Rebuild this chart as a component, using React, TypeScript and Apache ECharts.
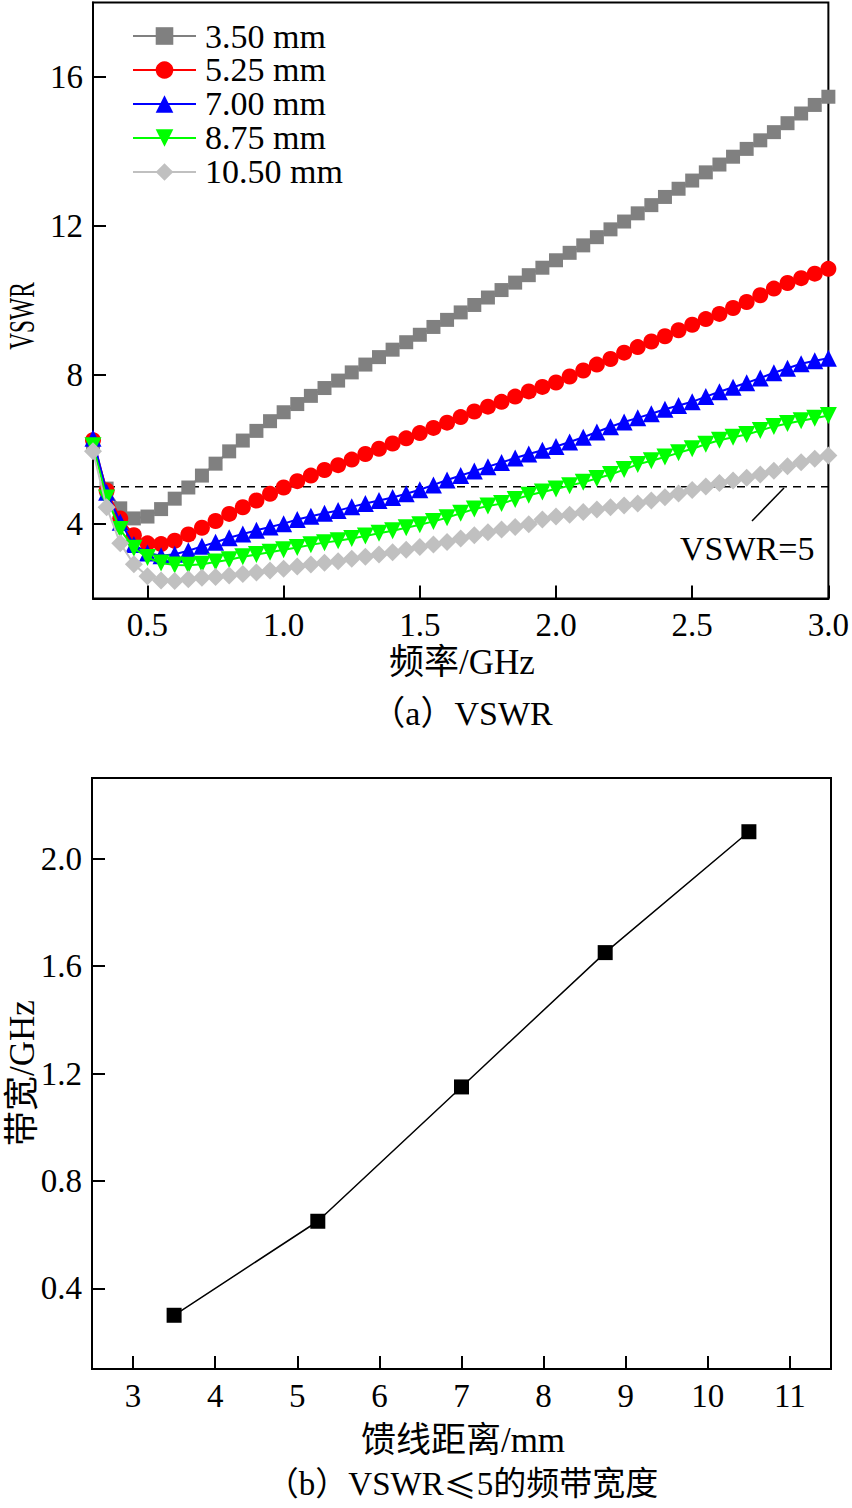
import React, { useEffect, useRef } from "react";
import * as echarts from "echarts";

// ---------- data ----------
const freqGHz = [
  0.3, 0.35, 0.4, 0.45, 0.5, 0.55, 0.6, 0.65, 0.7, 0.75, 0.8, 0.85, 0.9, 0.95, 1.0,
  1.05, 1.1, 1.15, 1.2, 1.25, 1.3, 1.35, 1.4, 1.45, 1.5, 1.55, 1.6, 1.65, 1.7, 1.75,
  1.8, 1.85, 1.9, 1.95, 2.0, 2.05, 2.1, 2.15, 2.2, 2.25, 2.3, 2.35, 2.4, 2.45, 2.5,
  2.55, 2.6, 2.65, 2.7, 2.75, 2.8, 2.85, 2.9, 2.95, 3.0,
];
const vswr350 = [
  6.1, 4.95, 4.42, 4.15, 4.2, 4.4, 4.68, 4.98, 5.3, 5.62, 5.95, 6.24, 6.5, 6.76, 7.0,
  7.22, 7.44, 7.65, 7.85, 8.07, 8.28, 8.48, 8.68, 8.88, 9.08, 9.29, 9.48, 9.68, 9.88, 10.08,
  10.28, 10.48, 10.68, 10.88, 11.08, 11.28, 11.48, 11.7, 11.91, 12.12, 12.34, 12.56, 12.78, 13.0, 13.22,
  13.44, 13.65, 13.86, 14.07, 14.3, 14.52, 14.76, 15.02, 15.25, 15.47,
];
const vswr525 = [
  6.25, 4.9, 4.15, 3.7, 3.48, 3.46, 3.55, 3.72, 3.9, 4.08, 4.27, 4.45, 4.63, 4.81, 4.98,
  5.15, 5.3, 5.45, 5.58, 5.73, 5.88, 6.02, 6.16, 6.3, 6.44, 6.58, 6.72, 6.87, 7.02, 7.15,
  7.28, 7.42, 7.56, 7.68, 7.8, 7.96, 8.12, 8.28, 8.43, 8.6, 8.75, 8.9, 9.04, 9.2, 9.35,
  9.5, 9.64, 9.8, 9.96, 10.14, 10.32, 10.47, 10.6, 10.72, 10.85,
];
const vswr700 = [
  6.3, 4.85, 4.05, 3.45, 3.22, 3.15, 3.19, 3.28, 3.4, 3.51, 3.63, 3.73, 3.83, 3.92, 4.01,
  4.12, 4.21, 4.29, 4.36, 4.46, 4.55, 4.63, 4.71, 4.81, 4.92, 5.05, 5.18, 5.3, 5.42, 5.54,
  5.65, 5.77, 5.88, 5.98, 6.08, 6.2, 6.33, 6.47, 6.61, 6.74, 6.85, 6.96, 7.08, 7.18, 7.28,
  7.42, 7.55, 7.67, 7.79, 7.92, 8.06, 8.18, 8.3, 8.38, 8.45,
];
const vswr875 = [
  6.1, 4.7, 3.85, 3.35, 3.1, 2.95, 2.9, 2.89, 2.92, 2.98, 3.04, 3.12, 3.18, 3.24, 3.31,
  3.37, 3.44, 3.5, 3.55, 3.61, 3.68, 3.75, 3.82, 3.9, 3.98, 4.07, 4.17, 4.29, 4.4, 4.48,
  4.55, 4.66, 4.77, 4.86, 4.94, 5.03, 5.12, 5.22, 5.33, 5.46, 5.6, 5.7, 5.8, 5.91, 6.02,
  6.14, 6.25, 6.33, 6.4, 6.51, 6.62, 6.7, 6.77, 6.84, 6.91,
];
const vswr1050 = [
  5.95, 4.45, 3.48, 2.92, 2.6, 2.48, 2.47, 2.52, 2.56, 2.58, 2.62, 2.66, 2.7, 2.75, 2.8,
  2.86, 2.91, 2.96, 3.0, 3.07, 3.12, 3.18, 3.24, 3.31, 3.38, 3.45, 3.52, 3.61, 3.7, 3.78,
  3.85, 3.92, 3.99, 4.12, 4.2, 4.25, 4.32, 4.39, 4.45, 4.5, 4.55, 4.63, 4.72, 4.82, 4.91,
  5.01, 5.1, 5.17, 5.24, 5.33, 5.43, 5.55, 5.66, 5.75, 5.84,
];
const seriesNames = ["3.50 mm", "5.25 mm", "7.00 mm", "8.75 mm", "10.50 mm"];
const vswrLimit = 5;

const feedDistanceMm = [3.5, 5.25, 7.0, 8.75, 10.5];
const bandwidthGHz = [0.3, 0.65, 1.15, 1.65, 2.1];

const topXTicks = [0.5, 1.0, 1.5, 2.0, 2.5, 3.0];
const topYTicks = [4, 8, 12, 16];
const botXTicks = [3, 4, 5, 6, 7, 8, 9, 10, 11];
const botYTicks = [0.4, 0.8, 1.2, 1.6, 2.0];

// ---------- styling ----------
const FONT = "'Liberation Serif', 'Times New Roman', 'Noto Sans CJK SC', serif";
const CJK = "'Noto Sans CJK SC', sans-serif";
const TICK_SIZE = 33;

const seriesStyles = [
  { color: "#808080", symbol: "rect", size: 14, rotate: 0 },
  { color: "#ff0000", symbol: "circle", size: 16, rotate: 0 },
  { color: "#0000ff", symbol: "triangle", size: 17, rotate: 0 },
  { color: "#00ff00", symbol: "triangle", size: 17, rotate: 180 },
  { color: "#c0c0c0", symbol: "diamond", size: 18, rotate: 0 },
];

function valueAxis(gridIndex: number, min: number, max: number, ticks: number[], fmt: (v: number) => string) {
  return {
    type: "value",
    gridIndex,
    min,
    max,
    axisLine: { show: true, onZero: false, lineStyle: { color: "#000", width: 2 } },
    axisTick: { show: true, inside: true, length: 13, lineStyle: { color: "#000", width: 2 }, customValues: ticks },
    axisLabel: {
      customValues: ticks,
      formatter: (v: number) => fmt(v),
      color: "#000",
      fontFamily: FONT,
      fontSize: TICK_SIZE,
      margin: 10,
    },
    splitLine: { show: false },
  };
}

function textEl(text: string, x: number, y: number, size: number, rotate = 0, align = "center", scaleX = 1) {
  return {
    type: "text",
    x,
    y,
    rotation: rotate,
    scaleX,
    style: {
      text,
      fill: "#000",
      font: `${size}px ${FONT}`,
      textAlign: align,
      textVerticalAlign: "middle",
      align,
      verticalAlign: "middle",
    },
  };
}

export default function App() {
  const ref = useRef<HTMLDivElement>(null);

  useEffect(() => {
    if (!ref.current) return;
    const chart = echarts.init(ref.current, undefined, { renderer: "svg" });
    const vswrSets = [vswr350, vswr525, vswr700, vswr875, vswr1050];

    const topSeries = vswrSets.map((arr, k) => ({
      name: seriesNames[k],
      type: "line",
      xAxisIndex: 0,
      yAxisIndex: 0,
      data: freqGHz.map((f, i) => [f, arr[i]]),
      symbol: seriesStyles[k].symbol,
      symbolSize: seriesStyles[k].size,
      symbolRotate: seriesStyles[k].rotate,
      showAllSymbol: true,
      itemStyle: { color: seriesStyles[k].color },
      lineStyle: { color: seriesStyles[k].color, width: 2 },
      z: 3 + k,
    }));

    const option = {
      animation: false,
      backgroundColor: "#fff",
      grid: [
        { left: 93, top: 2.5, width: 737, height: 596, show: true, borderColor: "#000", borderWidth: 2, containLabel: false },
        { left: 92, top: 778, width: 739, height: 591, show: true, borderColor: "#000", borderWidth: 2, containLabel: false },
      ],
      xAxis: [
        valueAxis(0, 0.3, 3.0, topXTicks, (v) => v.toFixed(1)),
        valueAxis(1, 2.5, 11.5, botXTicks, (v) => String(v)),
      ],
      yAxis: [
        valueAxis(0, 2, 18, topYTicks, (v) => String(v)),
        valueAxis(1, 0.1, 2.3, botYTicks, (v) => v.toFixed(1)),
      ],
      legend: {
        data: seriesNames,
        orient: "vertical",
        left: 132,
        top: 19,
        padding: 0,
        itemWidth: 63,
        itemHeight: 22,
        itemGap: 0,
        textStyle: { color: "#000", fontFamily: FONT, fontSize: 34, lineHeight: 31, padding: [0, 0, 0, 4] },
        selectedMode: false,
      },
      series: [
        ...topSeries,
        {
          name: "VSWR=5",
          type: "line",
          xAxisIndex: 0,
          yAxisIndex: 0,
          data: [
            [freqGHz[0], vswrLimit],
            [freqGHz[freqGHz.length - 1], vswrLimit],
          ],
          symbol: "none",
          lineStyle: { color: "#000", width: 1.5, type: [8, 6] },
          z: 2,
        },
        {
          name: "bandwidth",
          type: "line",
          xAxisIndex: 1,
          yAxisIndex: 1,
          data: feedDistanceMm.map((d, i) => [d, bandwidthGHz[i]]),
          symbol: "rect",
          symbolSize: 15,
          itemStyle: { color: "#000" },
          lineStyle: { color: "#000", width: 1.5 },
        },
      ],
      graphic: [
        textEl("VSWR", 22, 316, 36, Math.PI / 2, "center", 0.65),
        textEl("频率/GHz", 462, 662, 35),
        textEl("（a）VSWR", 462, 713, 34),
        textEl("VSWR=5", 680, 548, 34, 0, "left"),
        {
          type: "line",
          shape: { x1: 752, y1: 521, x2: 784, y2: 488 },
          style: { stroke: "#000", lineWidth: 1.5 },
        },
        textEl("带宽/GHz", 22, 1073, 35, Math.PI / 2),
        textEl("馈线距离/mm", 463, 1440, 35),
        {
          type: "text",
          x: 462,
          y: 1484,
          style: {
            text: "{a|（b）VSWR}{c|≤}{a|5的频带宽度}",
            fill: "#000",
            font: `32px ${FONT}`,
            textAlign: "center",
            textVerticalAlign: "middle",
            align: "center",
            verticalAlign: "middle",
            rich: {
              a: { fontFamily: FONT, fontSize: 33, fill: "#000", color: "#000", lineHeight: 34 },
              c: { fontFamily: CJK, fontSize: 33, fill: "#000", color: "#000", lineHeight: 34 },
            },
          },
        },
      ],
    };

    chart.setOption(option as any);
    return () => chart.dispose();
  }, []);

  return (
    <div
      ref={ref}
      style={{ position: "absolute", left: 0, top: 0, width: 852, height: 1508, background: "#fff" }}
    />
  );
}
